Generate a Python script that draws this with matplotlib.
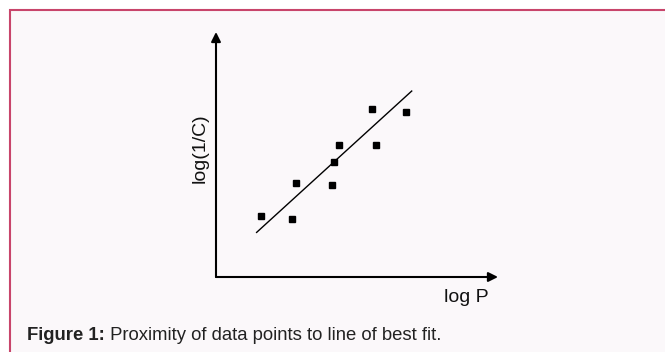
import matplotlib
matplotlib.use("Agg")
import matplotlib.pyplot as plt
from matplotlib.patches import Rectangle
import numpy as np


##############################################################################
# Data (arbitrary units)

LOG_P = [1.60, 2.68, 2.85, 4.10, 4.20, 4.37, 5.54, 5.66, 6.73]
LOG_INV_C = [2.49, 2.36, 3.82, 3.76, 4.68, 5.38, 6.84, 5.38, 6.72]

# end points of the line of best fit
FIT_X = [1.44, 6.94]
FIT_Y = [1.82, 7.59]

X_LABEL = "log P"
Y_LABEL = "log(1/C)"
CAPTION_BOLD = "Figure 1:"
CAPTION_TEXT = " Proximity of data points to line of best fit."


##############################################################################
# Figure and background box

W, H = 665, 352
plt.rcParams["font.family"] = ["Liberation Sans", "DejaVu Sans"]

fig = plt.figure(figsize=(W / 100, H / 100), dpi=100)
fig.patch.set_facecolor("white")

box = Rectangle((10 / W, -0.1), 1.2, (H - 10) / H + 0.1,
                transform=fig.transFigure, facecolor="#fbf8fa",
                edgecolor="#c8456b", linewidth=1.5, zorder=0)
fig.add_artist(box)


##############################################################################
# Plot

ax = fig.add_axes([216 / W, 75 / H, 282 / W, 245 / H])
ax.set_xlim(0, 10)
ax.set_ylim(0, 10)
ax.axis("off")

arrow = dict(arrowstyle="-|>", color="black", lw=1.5,
             mutation_scale=14, shrinkA=0, shrinkB=0)
ax.annotate("", xy=(0, 1), xytext=(0, 0), xycoords="axes fraction",
            arrowprops=arrow)
ax.annotate("", xy=(1, 0), xytext=(0, 0), xycoords="axes fraction",
            arrowprops=arrow)

ax.plot(FIT_X, FIT_Y, color="black", lw=1.0)
ax.plot(LOG_P, LOG_INV_C, "s", color="black", ms=4, clip_on=False)

fig.text(466 / W, 1 - 298 / H, X_LABEL, fontsize=14, ha="center",
         va="center", color="#111111")
fig.text(200 / W, 1 - 148 / H, Y_LABEL, fontsize=14, rotation=90,
         ha="center", va="center", color="#111111")


##############################################################################
# Caption

t1 = fig.text(27 / W, 12 / H, CAPTION_BOLD, fontsize=13.3, fontweight="bold",
              ha="left", va="baseline", color="#222222")
ax.annotate(CAPTION_TEXT, xy=(1, 0), xycoords=t1, fontsize=13.3,
            ha="left", va="bottom", color="#222222", annotation_clip=False)

fig.savefig("out.png", dpi=100)
